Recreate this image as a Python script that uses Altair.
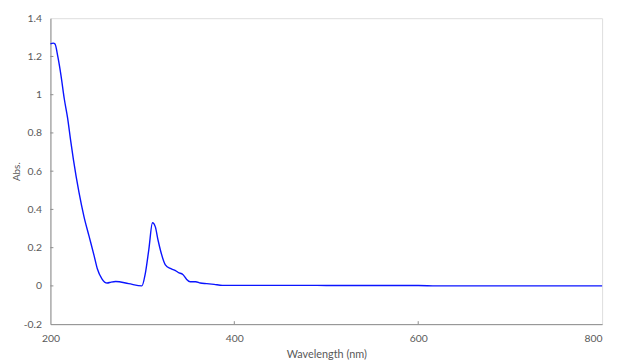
import altair as alt
import pandas as pd

wavelength = [200, 203, 205, 208, 211.5, 215, 218.6, 222, 225, 231, 236.6, 242, 247.4, 251, 256,
              261.7, 266, 271, 285, 299.5, 303, 307, 311, 314, 317, 320, 325, 331, 336, 339, 344,
              348, 352, 358, 363, 370, 378, 387, 420, 480, 500, 600, 620, 700, 800]
absorbance = [1.266, 1.27, 1.265, 1.20, 1.10, 0.98, 0.88, 0.76, 0.66, 0.49, 0.36, 0.26, 0.16, 0.09, 0.037,
              0.015, 0.02, 0.023, 0.012, 0.0, 0.06, 0.19, 0.33, 0.31, 0.24, 0.18, 0.11, 0.09, 0.08, 0.07, 0.06,
              0.035, 0.022, 0.022, 0.015, 0.012, 0.008, 0.003, 0.003, 0.003, 0.002, 0.002, 0.0, 0.0, 0.0]
x_ticks = [200, 400, 600, 800]
y_ticks = [-0.2, 0, 0.2, 0.4, 0.6, 0.8, 1.0, 1.2, 1.4]

df = pd.DataFrame({"wl": wavelength, "abs": absorbance})
xtick_df = pd.DataFrame({"wl": x_ticks[1:-1]})
ytick_df = pd.DataFrame({"abs": y_ticks[1:-1]})

FONT = "Lato"
GRAY = "#595959"
FRAME = "#8c8c8c"

xscale = alt.Scale(domain=[200, 800], nice=False, zero=False)
yscale = alt.Scale(domain=[-0.2, 1.4], nice=False, zero=False)

xaxis = alt.Axis(title="Wavelength (nm)", values=x_ticks, grid=False, ticks=False,
                 domainColor=FRAME, labelColor=GRAY, titleColor=GRAY,
                 labelFont=FONT, titleFont=FONT, labelFontSize=10.5, titleFontSize=11,
                 titleFontWeight="normal", labelPadding=10, titlePadding=4,
                 labelFlush=False, labelOverlap=False,
                 labelAlign=alt.ExprRef(expr="datum.value == 800 ? 'right' : 'center'"))
yaxis = alt.Axis(title="Abs.", values=y_ticks, grid=False, ticks=False,
                 domainColor=FRAME, labelColor=GRAY, titleColor=GRAY,
                 labelFont=FONT, titleFont=FONT, labelFontSize=10.5, titleFontSize=10,
                 titleFontWeight="normal", labelPadding=9, labelOverlap=False,
                 titleX=-29, titleY=155, titleAlign="center", titleAngle=270,
                 labelExpr="replace(format(datum.value, '~f'), '\u2212', '-')")

line = alt.Chart(df).mark_line(color="#0a14ff", strokeWidth=1.4, interpolate="monotone").encode(
    x=alt.X("wl:Q", scale=xscale, axis=xaxis),
    y=alt.Y("abs:Q", scale=yscale, axis=yaxis),
)

xticks = alt.Chart(xtick_df).mark_rule(color=FRAME, strokeWidth=1).encode(
    x=alt.X("wl:Q", scale=xscale, axis=xaxis),
    y=alt.value(310),
    y2=alt.value(307),
)

yticks = alt.Chart(ytick_df).mark_rule(color=FRAME, strokeWidth=1).encode(
    y=alt.Y("abs:Q", scale=yscale, axis=yaxis),
    x=alt.value(0),
    x2=alt.value(3),
)

chart = alt.layer(line, xticks, yticks).properties(
    width=559, height=310,
    autosize=alt.AutoSizeParams(type="none"),
    padding={"left": 43, "top": 8, "right": 8, "bottom": 35},
).configure_view(stroke=FRAME, strokeWidth=1).configure(background="white")

chart.save("out.html", embed_options={"renderer": "svg", "actions": False})
